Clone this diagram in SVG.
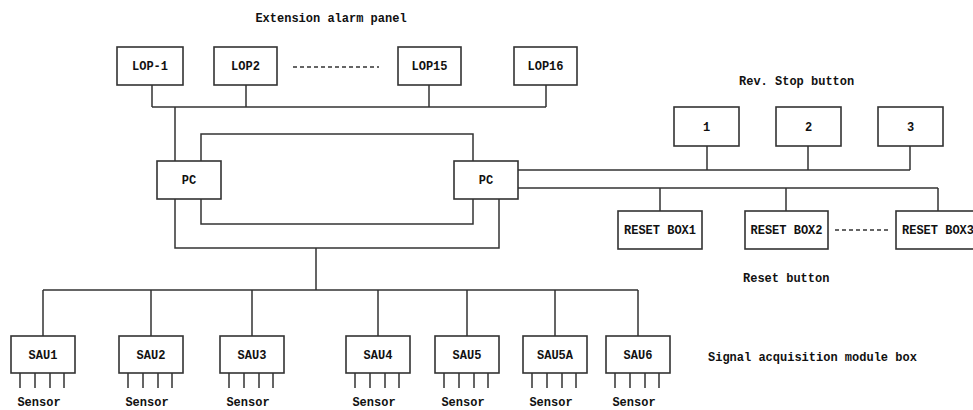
<svg xmlns="http://www.w3.org/2000/svg" width="973" height="410" viewBox="0 0 973 410">
<style>
rect.b{fill:#fff;stroke:#333;stroke-width:1.6}
text{font-family:"Liberation Mono","DejaVu Sans Mono",monospace;font-weight:bold;font-size:12px;fill:#111}
.c{text-anchor:middle}
.w{fill:none;stroke:#333;stroke-width:1.5}
.d{fill:none;stroke:#333;stroke-width:1.5;stroke-dasharray:4 3}
</style>
<rect width="973" height="410" fill="#fff"/>
<g id="labels">
<text x="331" y="22" class="c">Extension alarm panel</text>
<text x="739" y="85">Rev. Stop button</text>
<text x="743" y="282">Reset button</text>
<text x="708" y="361">Signal acquisition module box</text>
</g>
<g id="connectors">
<path class="w" d="M152 85V107M246 85V107M429 85V107M546 85V107M152 107H546M175 107V161"/>
<path class="w" d="M201 161V134H473V161M201 199V224H473V199M175 199V248H499V199M316 248V290"/>
<path class="w" d="M43 290H638M43 290V336M151 290V336M252 290V336M378 290V336M467 290V336M555 290V336M638 290V336"/>
<path class="w" d="M518 170H910M707 146V170M808 146V170M910 146V170"/>
<path class="w" d="M518 188H938M660 188V211M786 188V211M938 188V211"/>
<path class="d" d="M293 67H379M835 230H890"/>
</g>
<g id="lop1"><rect class="b" x="117" y="47" width="66" height="38"/><text x="150" y="70" class="c">LOP-1</text></g>
<g id="lop2"><rect class="b" x="214" y="47" width="63" height="38"/><text x="245.5" y="70" class="c">LOP2</text></g>
<g id="lop15"><rect class="b" x="398" y="47" width="63" height="38"/><text x="429.5" y="70" class="c">LOP15</text></g>
<g id="lop16"><rect class="b" x="514" y="47" width="63" height="38"/><text x="545.5" y="70" class="c">LOP16</text></g>
<g id="pc1"><rect class="b" x="157" y="161" width="64" height="38"/><text x="189" y="184" class="c">PC</text></g>
<g id="pc2"><rect class="b" x="454" y="161" width="64" height="38"/><text x="486" y="184" class="c">PC</text></g>
<g id="btn1"><rect class="b" x="674" y="107" width="65" height="39"/><text x="706.5" y="131" class="c">1</text></g>
<g id="btn2"><rect class="b" x="776" y="107" width="65" height="39"/><text x="808.5" y="131" class="c">2</text></g>
<g id="btn3"><rect class="b" x="878" y="107" width="65" height="39"/><text x="910.5" y="131" class="c">3</text></g>
<g id="reset1"><rect class="b" x="618" y="211" width="84" height="38"/><text x="660" y="234" class="c">RESET BOX1</text></g>
<g id="reset2"><rect class="b" x="745" y="211" width="83" height="38"/><text x="786.5" y="234" class="c">RESET BOX2</text></g>
<g id="reset3"><rect class="b" x="896" y="211" width="84" height="38"/><text x="938" y="234" class="c">RESET BOX3</text></g>
<g id="sau1"><rect class="b" x="11" y="336" width="64" height="37"/><text x="43" y="359" class="c">SAU1</text><path class="w" d="M20 373V388M35 373V388M50 373V388M64 373V388"/><text x="39" y="406" class="c">Sensor</text></g>
<g id="sau2"><rect class="b" x="119" y="336" width="64" height="37"/><text x="151" y="359" class="c">SAU2</text><path class="w" d="M128 373V388M143 373V388M158 373V388M172 373V388"/><text x="147" y="406" class="c">Sensor</text></g>
<g id="sau3"><rect class="b" x="220" y="336" width="64" height="37"/><text x="252" y="359" class="c">SAU3</text><path class="w" d="M229 373V388M244 373V388M259 373V388M273 373V388"/><text x="248" y="406" class="c">Sensor</text></g>
<g id="sau4"><rect class="b" x="346" y="336" width="64" height="37"/><text x="378" y="359" class="c">SAU4</text><path class="w" d="M355 373V388M370 373V388M385 373V388M399 373V388"/><text x="374" y="406" class="c">Sensor</text></g>
<g id="sau5"><rect class="b" x="435" y="336" width="64" height="37"/><text x="467" y="359" class="c">SAU5</text><path class="w" d="M444 373V388M459 373V388M474 373V388M488 373V388"/><text x="463" y="406" class="c">Sensor</text></g>
<g id="sau5a"><rect class="b" x="523" y="336" width="64" height="37"/><text x="555" y="359" class="c">SAU5A</text><path class="w" d="M532 373V388M547 373V388M562 373V388M576 373V388"/><text x="551" y="406" class="c">Sensor</text></g>
<g id="sau6"><rect class="b" x="606" y="336" width="64" height="37"/><text x="638" y="359" class="c">SAU6</text><path class="w" d="M615 373V388M630 373V388M645 373V388M659 373V388"/><text x="634" y="406" class="c">Sensor</text></g>
</svg>
